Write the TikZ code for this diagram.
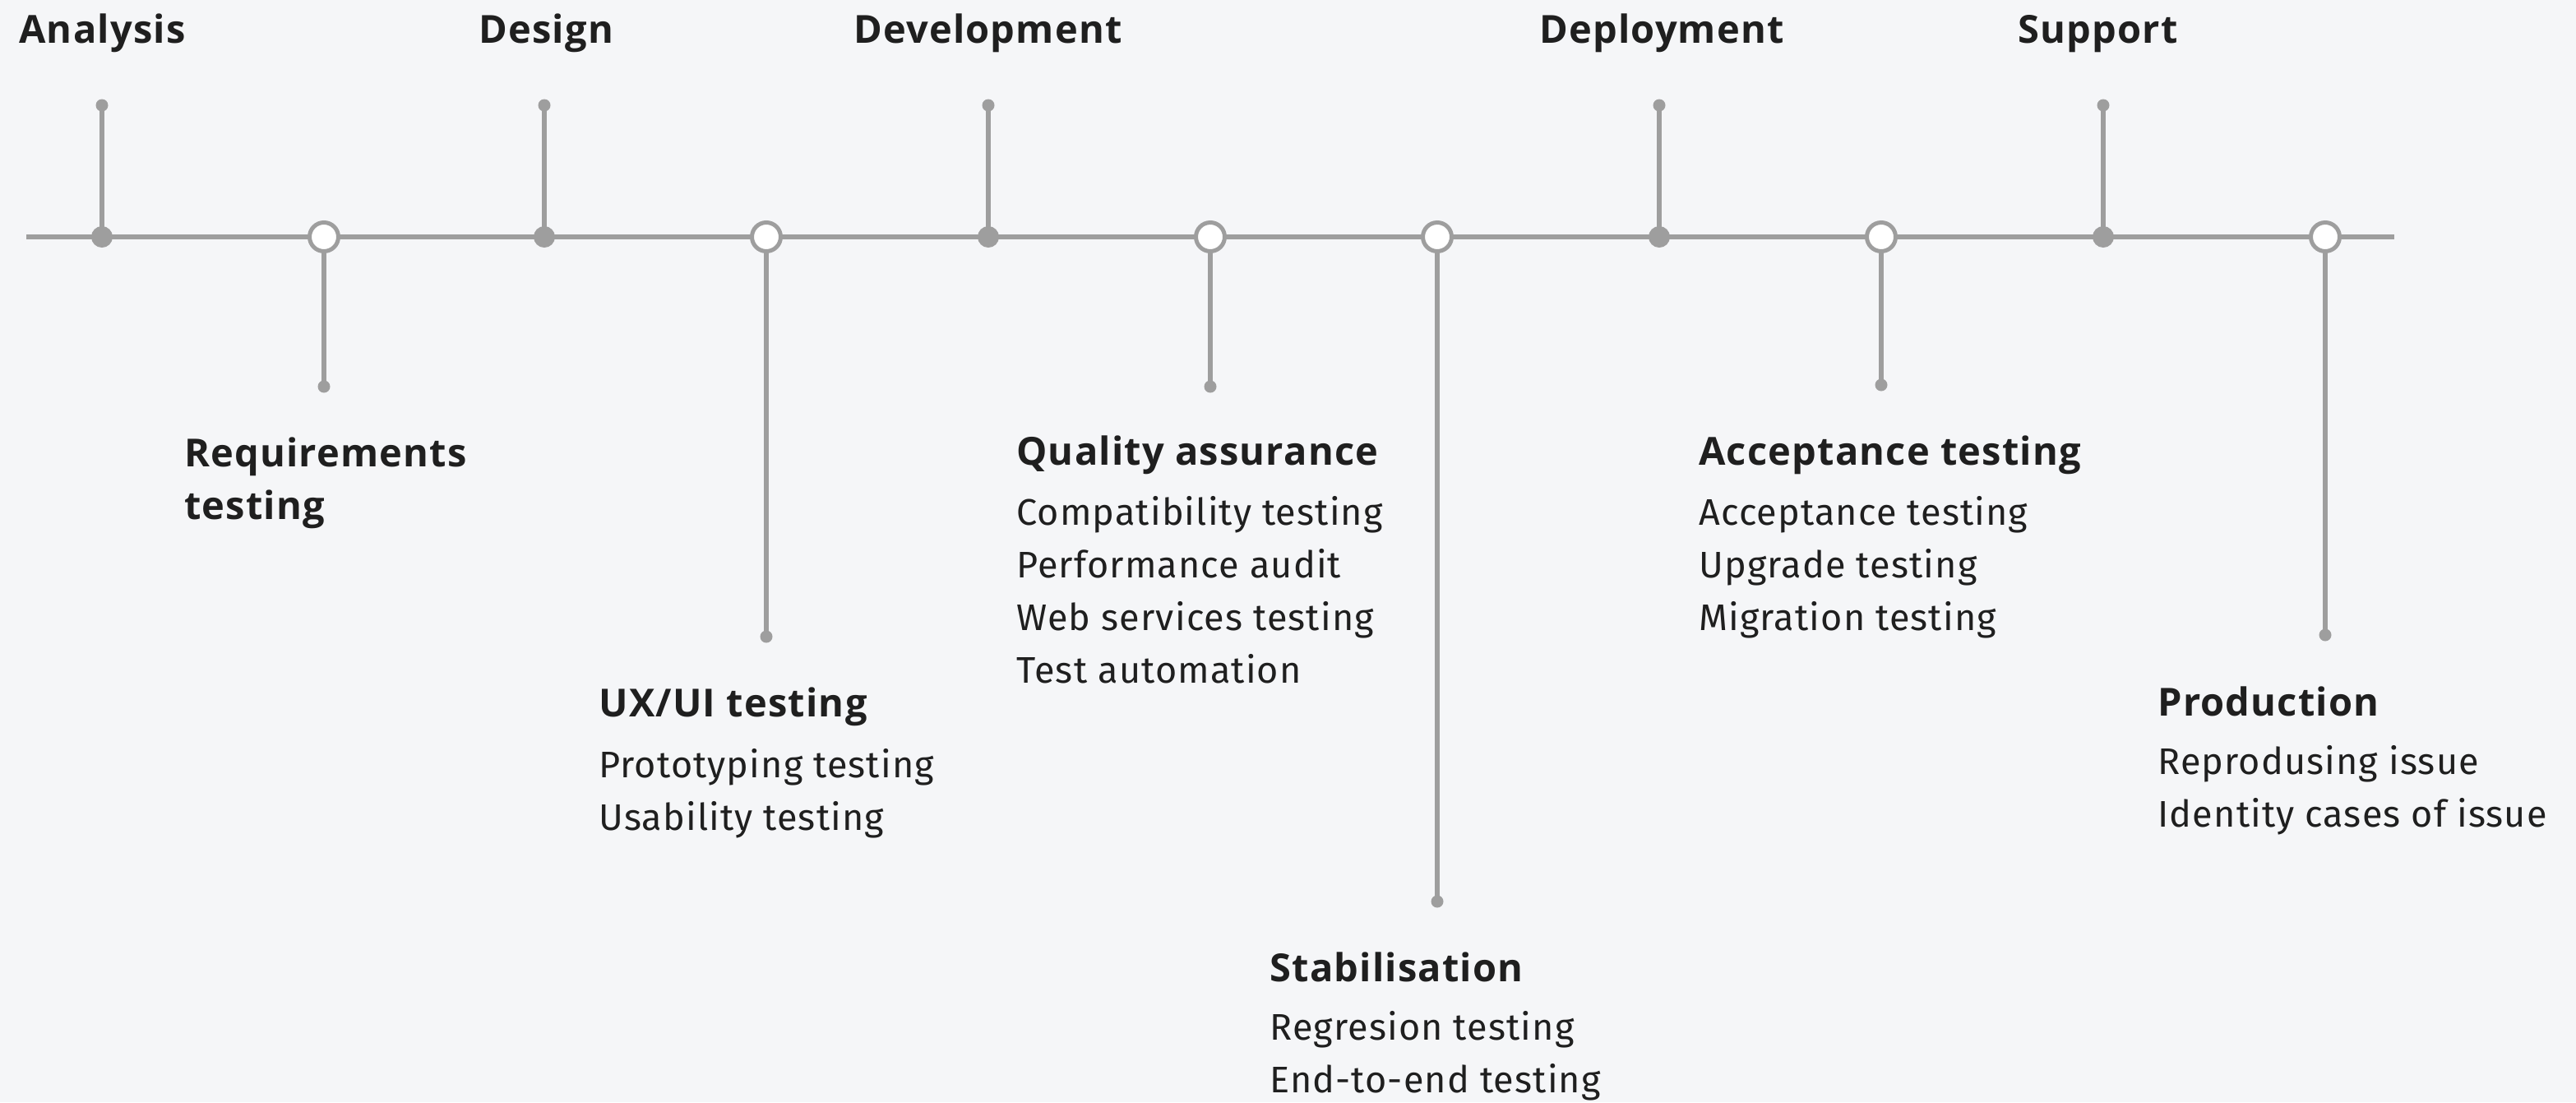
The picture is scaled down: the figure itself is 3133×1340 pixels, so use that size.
\documentclass[tikz,border=0pt]{standalone}
\usepackage{fontspec}
\setmainfont{Fira Sans}[LetterSpace=2.5]
\newfontfamily\headfont{Open Sans}[LetterSpace=2.5]
\definecolor{bg}{HTML}{F5F6F8}
\definecolor{linegray}{HTML}{9E9E9E}
\definecolor{ink}{HTML}{1F1F1F}
\tikzset{
  axis/.style={draw=linegray, line width=3pt},
  stem/.style={draw=linegray, line width=3pt},
  filleddot/.style={circle, fill=linegray, minimum size=13pt, inner sep=0pt},
  hollowdot/.style={circle, draw=linegray, fill=white, line width=2.5pt, minimum size=17.5pt, inner sep=0pt},
  enddot/.style={circle, fill=linegray, minimum size=7.5pt, inner sep=0pt},
  toplabel/.style={anchor=base west, inner sep=0pt, text=ink, font=\headfont\bfseries\fontsize{23.5}{28}\selectfont},
  head/.style={anchor=base west, inner sep=0pt, text=ink, align=left, font=\headfont\bfseries\fontsize{23.5}{32}\selectfont},
  items/.style={anchor=base west, inner sep=0pt, text=ink, align=left, font=\fontsize{22.5}{32}\selectfont},
}
\begin{document}
\begin{tikzpicture}[x=0.5pt,y=-0.5pt]
\fill[bg] (0,0) rectangle (3133,1340);
\useasboundingbox (0,0) rectangle (3133,1340);
% axis
\coordinate (L) at (32,288);
\coordinate (R) at (2912,288);
\draw[axis] (L) -- (R);
% end dots
\node[enddot] (e1) at (124,128) {};
\node[enddot] (e2) at (394,470) {};
\node[enddot] (e3) at (662,128) {};
\node[enddot] (e4) at (932,774) {};
\node[enddot] (e5) at (1202,128) {};
\node[enddot] (e6) at (1472,470) {};
\node[enddot] (e7) at (1748,1096) {};
\node[enddot] (e8) at (2018,128) {};
\node[enddot] (e9) at (2288,468) {};
\node[enddot] (e10) at (2558,128) {};
\node[enddot] (e11) at (2828,772) {};
% stems
\coordinate (c1) at (124,288);
\coordinate (c2) at (394,288);
\coordinate (c3) at (662,288);
\coordinate (c4) at (932,288);
\coordinate (c5) at (1202,288);
\coordinate (c6) at (1472,288);
\coordinate (c7) at (1748,288);
\coordinate (c8) at (2018,288);
\coordinate (c9) at (2288,288);
\coordinate (c10) at (2558,288);
\coordinate (c11) at (2828,288);
\foreach \i in {1,...,11} { \draw[stem] (c\i) -- (e\i.center); }
% markers
\node[filleddot] (m1) at (c1) {};
\node[hollowdot] (m2) at (c2) {};
\node[filleddot] (m3) at (c3) {};
\node[hollowdot] (m4) at (c4) {};
\node[filleddot] (m5) at (c5) {};
\node[hollowdot] (m6) at (c6) {};
\node[hollowdot] (m7) at (c7) {};
\node[filleddot] (m8) at (c8) {};
\node[hollowdot] (m9) at (c9) {};
\node[filleddot] (m10) at (c10) {};
\node[hollowdot] (m11) at (c11) {};
% top labels
\node[toplabel] (tAnalysis) at (23,52) {Analysis};
\node[toplabel] (tDesign) at (582,52) {Design};
\node[toplabel] (tDev) at (1038,52) {Development};
\node[toplabel] (tDeploy) at (1872,52) {Deployment};
\node[toplabel] (tSupport) at (2454,52) {Support};
% bottom groups (anchor = baseline of last line)
\node[head] (hReq) at (224,631) {Requirements\\testing};
\node[head] (hUX) at (728,871) {UX/UI testing};
\node[items] (iUX) at (728,1009) {Prototyping testing\\Usability testing};
\node[head] (hQA) at (1236,565) {Quality assurance};
\node[items] (iQA) at (1236,830) {Compatibility testing\\Performance audit\\Web services testing\\Test automation};
\node[head] (hStab) at (1544,1193) {Stabilisation};
\node[items] (iStab) at (1544,1328) {Regresion testing\\End-to-end testing};
\node[head] (hAcc) at (2066,565) {Acceptance testing};
\node[items] (iAcc) at (2066,766) {Acceptance testing\\Upgrade testing\\Migration testing};
\node[head] (hProd) at (2624,870) {Production};
\node[items] (iProd) at (2624,1005) {Reprodusing issue\\Identity cases of issue};
\end{tikzpicture}
\end{document}
